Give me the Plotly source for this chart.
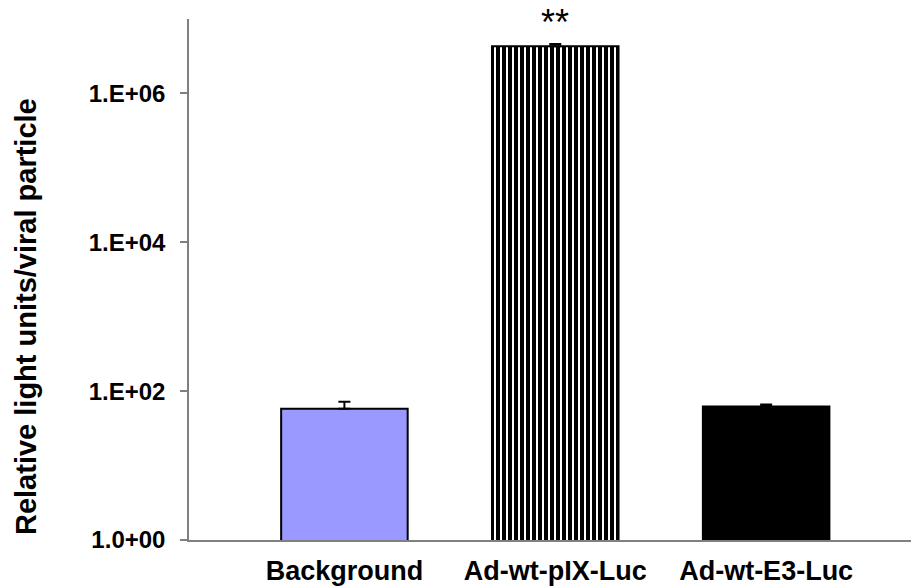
import plotly.graph_objects as go

categories = ["Background", "Ad-wt-pIX-Luc", "Ad-wt-E3-Luc"]
values = [58, 4.3e6, 62]
errors_plus = [14, 0.3e6, 4]
bar_colors = ["#9999FF", "#FFFFFF", "#000000"]
pattern_shapes = ["", "|", ""]
ytick_vals = [1, 1e2, 1e4, 1e6]
ytick_text = ["1.0+00", "1.E+02", "1.E+04", "1.E+06"]
y_title = "Relative light units/viral particle"
significance = "**"

FONT = "Arial, 'Liberation Sans', sans-serif"

fig = go.Figure()
for cat, val, err, col, shp in zip(categories, values, errors_plus, bar_colors, pattern_shapes):
    marker = dict(color=col, line=dict(color="black", width=2))
    if shp:
        marker["pattern"] = dict(shape=shp, fgcolor="#000000", fgopacity=1,
                                 size=6, solidity=0.667, fillmode="overlay")
    fig.add_trace(go.Bar(
        x=[cat], y=[val], width=0.6, marker=marker,
        error_y=dict(type="data", symmetric=False, array=[err],
                     arrayminus=[0], color="black", thickness=2, width=6),
        showlegend=False,
    ))

fig.add_annotation(
    x=categories[1], y=1.0, xref="x", yref="paper",
    text=significance, showarrow=False, yanchor="top", yshift=19,
    font=dict(family=FONT, size=36, color="black"),
)
fig.add_annotation(
    x=0, y=0.428, xref="paper", yref="paper", xshift=-163,
    text=y_title, textangle=-90, showarrow=False,
    xanchor="center", yanchor="middle",
    font=dict(family=FONT, size=29, color="black", weight="bold"),
)

fig.update_layout(
    width=911, height=586,
    margin=dict(l=189, r=0, t=19, b=46, pad=0),
    paper_bgcolor="white", plot_bgcolor="white",
    font=dict(family=FONT, color="black"),
    barmode="overlay",
)
fig.update_xaxes(
    range=[-0.737, 2.687],
    showline=True, linecolor="#808080", linewidth=1.5,
    ticks="", showgrid=False, zeroline=False,
    tickfont=dict(family=FONT, size=27, color="black", weight="bold"),
    ticklabelstandoff=6,
)
fig.update_yaxes(
    type="log", range=[0, 7],
    tickvals=ytick_vals, ticktext=ytick_text,
    showline=True, linecolor="#808080", linewidth=1.5,
    ticks="outside", ticklen=7, tickcolor="#808080", tickwidth=1.5,
    showgrid=False, zeroline=False,
    tickfont=dict(family=FONT, size=24, color="black", weight="bold"),
    ticklabelstandoff=10,
)

fig.write_html(
    "out.html",
    config={"displayModeBar": False},
    post_script="document.body.style.margin='0';document.body.style.overflow='hidden';",
)
